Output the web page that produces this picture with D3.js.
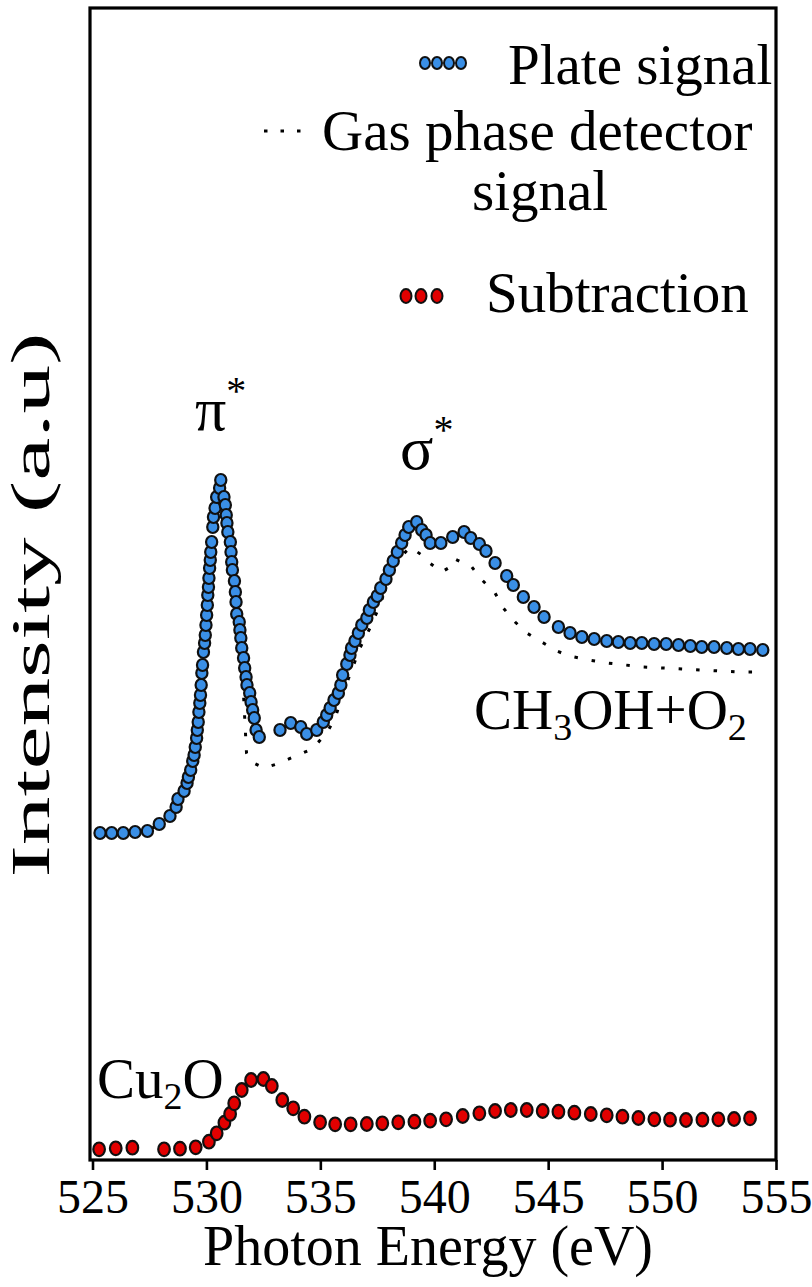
<!DOCTYPE html>
<html>
<head>
<meta charset="utf-8">
<script src="https://cdn.jsdelivr.net/npm/d3@7"></script>
<style>
  html, body { margin: 0; padding: 0; background: #fff; }
  svg { display: block; }
  text { font-family: "Liberation Serif", "Times New Roman", serif; fill: #000; }
</style>
</head>
<body>
<svg id="chart" width="812" height="1287"></svg>
<script>
// ---------------- data ----------------
const xTicks = [525, 530, 535, 540, 545, 550, 555];

const plateEnergy = [525.33,525.84,526.35,526.87,527.41,527.93,528.40,528.67,528.75,529.02,529.15,529.21,529.31,
  529.40,529.46,529.51,529.57,529.60,529.64,529.67,529.71,529.74,529.77,529.80,529.83,529.87,529.92,529.95,529.98,530.01,530.04,530.06,530.09,530.11,530.14,530.17,530.19,530.23,530.28,530.31,530.38,530.45,530.58,530.63,
  530.77,530.83,530.87,530.90,530.94,531.05,531.08,531.11,531.14,531.23,531.27,531.30,531.33,531.44,531.47,531.51,531.55,531.63,531.68,531.74,531.78,531.90,531.96,532.03,532.10,532.18,532.32,
  533.23,533.70,534.14,534.40,534.84,535.13,535.28,535.43,535.60,535.79,535.90,535.98,536.16,536.30,536.37,536.52,536.67,536.82,537.04,537.15,537.33,537.50,537.65,537.88,538.03,538.20,538.38,538.57,538.72,538.88,539.23,539.45,539.64,539.82,540.29,540.81,541.31,541.60,541.98,542.27,542.67,543.18,543.47,543.91,544.38,544.82,545.45,545.96,546.48,547.02,547.57,548.08,548.60,549.11,549.65,550.18,550.72,551.24,551.74,552.28,552.84,553.35,553.86,554.42];
const plateIntensity = [3.27,3.27,3.27,3.28,3.29,3.36,3.44,3.53,3.61,3.69,3.77,3.83,3.90,
  3.99,4.05,4.13,4.22,4.30,4.38,4.48,4.57,4.65,4.75,4.87,4.95,5.08,5.17,5.25,5.35,5.45,5.55,5.65,5.73,5.82,5.92,6.00,6.08,6.18,6.33,6.43,6.52,6.63,6.72,6.80,
  6.63,6.55,6.45,6.37,6.28,6.18,6.08,5.98,5.90,5.79,5.68,5.58,5.46,5.38,5.30,5.22,5.12,5.02,4.92,4.83,4.75,4.67,4.58,4.50,4.42,4.30,4.23,
  4.30,4.37,4.33,4.26,4.30,4.38,4.45,4.52,4.60,4.67,4.75,4.85,4.96,5.05,5.12,5.19,5.27,5.35,5.42,5.50,5.58,5.64,5.72,5.81,5.90,5.99,6.08,6.17,6.25,6.33,6.38,6.30,6.25,6.17,6.17,6.23,6.28,6.22,6.16,6.09,5.97,5.84,5.75,5.63,5.53,5.43,5.33,5.27,5.23,5.21,5.19,5.18,5.17,5.17,5.16,5.16,5.15,5.14,5.13,5.13,5.12,5.11,5.11,5.10];

const gasEnergy = [525.33,526.35,527.41,527.93,528.40,528.75,529.15,529.40,529.72,530.00,530.30,530.60,530.80,531.00,531.30,531.55,531.76,531.97,532.53,533.09,533.81,534.43,534.84,535.28,535.65,536.08,536.74,537.18,537.62,538.20,538.94,539.45,539.74,540.33,540.84,540.91,541.65,542.01,542.67,543.03,543.55,544.06,544.42,544.94,545.38,545.93,546.76,547.57,548.38,549.18,550.06,550.87,551.67,552.55,553.35,554.16,554.52];
const gasIntensity = [3.27,3.27,3.29,3.36,3.44,3.61,3.77,3.99,4.55,5.30,6.10,6.68,6.55,6.15,5.55,5.00,4.07,3.98,3.92,3.96,4.03,4.09,4.16,4.27,4.42,4.72,5.12,5.32,5.55,5.95,6.13,6.05,5.98,5.88,5.95,6.01,5.93,5.82,5.67,5.52,5.38,5.27,5.22,5.15,5.09,5.04,5.00,4.97,4.95,4.93,4.92,4.91,4.90,4.89,4.88,4.88,4.87];

const subEnergy = [525.29,526.02,526.75,528.14,528.84,529.53,530.11,530.45,530.79,531.04,531.22,531.55,531.96,532.50,532.87,533.33,533.81,534.30,534.99,535.65,536.33,537.04,537.72,538.42,539.13,539.82,540.52,541.25,541.98,542.67,543.36,544.06,544.76,545.45,546.15,546.87,547.57,548.26,548.96,549.66,550.35,551.05,551.77,552.47,553.16,553.86];
const subIntensity = [0.107,0.117,0.123,0.107,0.113,0.127,0.183,0.267,0.373,0.46,0.567,0.70,0.80,0.81,0.74,0.60,0.517,0.433,0.377,0.357,0.357,0.36,0.367,0.377,0.383,0.393,0.407,0.44,0.467,0.49,0.50,0.50,0.49,0.483,0.473,0.46,0.447,0.433,0.42,0.407,0.403,0.40,0.403,0.407,0.41,0.417];

const legendLabels = ["Plate signal", "Gas phase detector", "signal", "Subtraction"];
const xTitle = "Photon Energy (eV)";
const yTitle = "Intensity (a.u)";

if (plateEnergy.length !== plateIntensity.length) throw new Error("plate length mismatch " + plateEnergy.length + " " + plateIntensity.length);
if (gasEnergy.length !== gasIntensity.length) throw new Error("gas length mismatch");
if (subEnergy.length !== subIntensity.length) throw new Error("sub length mismatch");

// ---------------- layout ----------------
const frame = { left: 90, right: 776, top: 8, bottom: 1160 };
const svg = d3.select("#chart");

const x = d3.scaleLinear().domain([525, 555]).range([92.5, 776]);
const y = d3.scaleLinear().domain([0, 11.52]).range([frame.bottom, frame.top]);

const BLUE = "#3a8fe6", RED = "#e10000", EDGE = "#101010";

// gas phase dotted line
const line = d3.line().x((d, i) => x(gasEnergy[i])).y((d, i) => y(gasIntensity[i]));
svg.append("path")
  .attr("d", line(gasEnergy))
  .attr("fill", "none")
  .attr("stroke", "#000")
  .attr("stroke-width", 3)
  .attr("stroke-dasharray", "3.5,14");

// plate signal markers
svg.append("g").selectAll("ellipse")
  .data(plateEnergy.map((e, i) => [e, plateIntensity[i]]))
  .join("ellipse")
  .attr("cx", d => x(d[0])).attr("cy", d => y(d[1]))
  .attr("rx", 5.6).attr("ry", 6)
  .attr("fill", BLUE).attr("stroke", EDGE).attr("stroke-width", 2.2);

// subtraction markers
svg.append("g").selectAll("ellipse")
  .data(subEnergy.map((e, i) => [e, subIntensity[i]]))
  .join("ellipse")
  .attr("cx", d => x(d[0])).attr("cy", d => y(d[1]))
  .attr("rx", 5.8).attr("ry", 6.8)
  .attr("fill", RED).attr("stroke", EDGE).attr("stroke-width", 2.2);

// frame
svg.append("rect")
  .attr("x", frame.left).attr("y", frame.top)
  .attr("width", frame.right - frame.left).attr("height", frame.bottom - frame.top)
  .attr("fill", "none").attr("stroke", "#000").attr("stroke-width", 3.2);

// x axis
const xAxis = d3.axisBottom(x).tickValues(xTicks).tickSize(10).tickSizeOuter(0).tickFormat(d3.format("d"));
const gx = svg.append("g").attr("transform", `translate(0,${frame.bottom})`).call(xAxis);
gx.select(".domain").remove();
gx.selectAll(".tick line").attr("stroke", "#000").attr("stroke-width", 2.6);
gx.selectAll(".tick text")
  .attr("y", 53).attr("dy", null)
  .style("font-family", '"Liberation Serif", serif')
  .style("font-size", "48px").attr("fill", "#000");

// axis titles
svg.append("text").attr("x", (frame.left + frame.right) / 2 - 5).attr("y", 1265)
  .attr("text-anchor", "middle").style("font-size", "56px").text(xTitle);
svg.append("text").attr("transform", "translate(49,605) rotate(-90) scale(1.8,1)")
  .attr("text-anchor", "middle").style("font-size", "54px").text(yTitle);

// legend
const lg = svg.append("g");
[425, 437, 449, 461].forEach(cx => lg.append("ellipse").attr("cx", cx).attr("cy", 63)
  .attr("rx", 5).attr("ry", 6).attr("fill", BLUE).attr("stroke", EDGE).attr("stroke-width", 2));
lg.append("text").attr("x", 508).attr("y", 84).style("font-size", "57px").text(legendLabels[0]);
lg.append("line").attr("x1", 264).attr("x2", 312).attr("y1", 131).attr("y2", 131)
  .attr("stroke", "#000").attr("stroke-width", 3).attr("stroke-dasharray", "3.5,13");
lg.append("text").attr("x", 322).attr("y", 150).style("font-size", "57px").text(legendLabels[1]);
lg.append("text").attr("x", 472).attr("y", 210).style("font-size", "57px").text(legendLabels[2]);
[406, 421, 437].forEach(cx => lg.append("ellipse").attr("cx", cx).attr("cy", 296)
  .attr("rx", 5.5).attr("ry", 7).attr("fill", RED).attr("stroke", EDGE).attr("stroke-width", 2));
lg.append("text").attr("x", 486).attr("y", 312).style("font-size", "57px").text(legendLabels[3]);

// annotations
const pi = svg.append("text").attr("x", 195).attr("y", 430).style("font-size", "62px");
pi.append("tspan").text("π");
pi.append("tspan").attr("dy", -26).style("font-size", "40px").text("*");

const sg = svg.append("text").attr("x", 400).attr("y", 469).style("font-size", "62px");
sg.append("tspan").text("σ");
sg.append("tspan").attr("dy", -26).style("font-size", "40px").text("*");

const ch = svg.append("text").attr("x", 474).attr("y", 729).style("font-size", "57px");
ch.append("tspan").text("CH");
ch.append("tspan").attr("dy", 11).style("font-size", "38px").text("3");
ch.append("tspan").attr("dy", -11).text("OH+O");
ch.append("tspan").attr("dy", 11).style("font-size", "38px").text("2");

const cu = svg.append("text").attr("x", 97).attr("y", 1098).style("font-size", "57px");
cu.append("tspan").text("Cu");
cu.append("tspan").attr("dy", 11).style("font-size", "38px").text("2");
cu.append("tspan").attr("dy", -11).text("O");
</script>
</body>
</html>
